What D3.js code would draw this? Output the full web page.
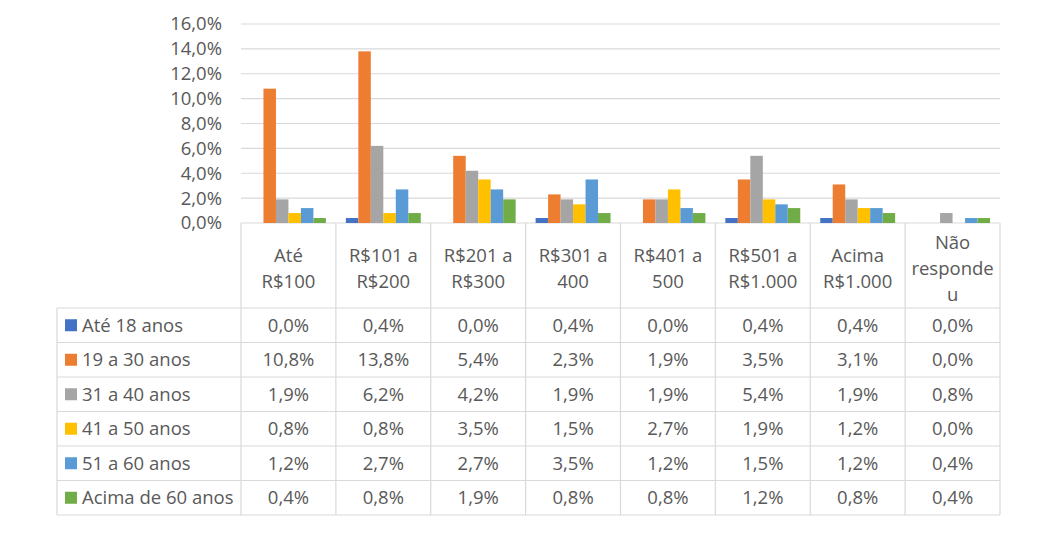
<!DOCTYPE html>
<html>
<head>
  <meta charset="utf-8">
  <script src="https://d3js.org/d3.v7.min.js"></script>
  <style>
    body { margin: 0; background: #fff; }
    text { font-family: "Open Sans", "Noto Sans", sans-serif; fill: #595959; }
  </style>
</head>
<body>
  <script type="text/javascript">
    // faixas de renda (cabecalho da tabela, "|" = quebra de linha)
    var categories = ["Até|R$100", "R$101 a|R$200", "R$201 a|R$300", "R$301 a|400",
                      "R$401 a|500", "R$501 a|R$1.000", "Acima|R$1.000", "Não|responde|u"];
    var series = ["Até 18 anos", "19 a 30 anos", "31 a 40 anos", "41 a 50 anos",
                  "51 a 60 anos", "Acima de 60 anos"];
    var colors = ["#4472C4", "#ED7D31", "#A5A5A5", "#FFC000", "#5B9BD5", "#70AD47"];

    var ate18   = [0.000, 0.004, 0.000, 0.004, 0.000, 0.004, 0.004, 0.000];
    var a19_30  = [0.108, 0.138, 0.054, 0.023, 0.019, 0.035, 0.031, 0.000];
    var a31_40  = [0.019, 0.062, 0.042, 0.019, 0.019, 0.054, 0.019, 0.008];
    var a41_50  = [0.008, 0.008, 0.035, 0.015, 0.027, 0.019, 0.012, 0.000];
    var a51_60  = [0.012, 0.027, 0.027, 0.035, 0.012, 0.015, 0.012, 0.004];
    var acima60 = [0.004, 0.008, 0.019, 0.008, 0.008, 0.012, 0.008, 0.004];
    var yTicks = [0, 0.02, 0.04, 0.06, 0.08, 0.10, 0.12, 0.14, 0.16];

    var values = [ate18, a19_30, a31_40, a41_50, a51_60, acima60];

    var width = 1061, height = 536;
    var plotLeft = 241, plotRight = 1000, plotTop = 24, base = 223;
    var tableLeft = 57, headerBottom = 308, rowH = 34.5;
    var fs = 18.5;

    var br = d3.formatLocale({decimal: ",", thousands: ".", grouping: [3], currency: ["R$", ""]});
    var pct = br.format(".1%");

    var svg = d3.select("body").append("svg")
        .attr("width", width)
        .attr("height", height);

    var x = d3.scaleBand().domain(d3.range(categories.length)).range([plotLeft, plotRight]).padding(0);
    var xs = d3.scaleBand().domain(d3.range(series.length)).range([0, x.bandwidth()])
        .paddingInner(0).paddingOuter(0.8);
    var y = d3.scaleLinear().domain([0, 0.16]).range([base, plotTop]);

    // grade
    svg.append("g").selectAll("line").data(yTicks).join("line")
        .attr("x1", plotLeft).attr("x2", plotRight)
        .attr("y1", function(d) { return y(d); })
        .attr("y2", function(d) { return y(d); })
        .attr("stroke", "#d9d9d9").attr("stroke-width", 1.2);

    var yAxis = d3.axisLeft(y).tickValues(yTicks).tickFormat(pct).tickSize(0).tickPadding(0);
    var ya = svg.append("g").attr("transform", "translate(222,0)").call(yAxis);
    ya.select(".domain").remove();
    ya.selectAll("text").attr("font-size", fs).style("fill", "#595959")
      .attr("font-family", "Open Sans, sans-serif");

    // barras
    series.forEach(function(s, si) {
      svg.append("g").selectAll("rect").data(values[si]).join("rect")
        .attr("x", function(d, i) { return x(i) + xs(si); })
        .attr("y", function(d) { return y(d); })
        .attr("width", xs.bandwidth())
        .attr("height", function(d) { return base - y(d); })
        .attr("fill", colors[si]);
    });

    // tabela de dados
    var tbl = svg.append("g").attr("stroke", "#d9d9d9").attr("stroke-width", 1.2);
    var rowsBottom = headerBottom + rowH * series.length;
    d3.range(categories.length + 1).forEach(function(i) {
      var xx = i < categories.length ? x(i) : plotRight;
      tbl.append("line").attr("x1", xx).attr("x2", xx).attr("y1", base).attr("y2", rowsBottom);
    });
    tbl.append("line").attr("x1", tableLeft).attr("x2", tableLeft).attr("y1", headerBottom).attr("y2", rowsBottom);
    d3.range(series.length + 1).forEach(function(r) {
      var yy = headerBottom + r * rowH;
      tbl.append("line").attr("x1", tableLeft).attr("x2", plotRight).attr("y1", yy).attr("y2", yy);
    });

    // cabecalho
    categories.forEach(function(c, i) {
      var lines = c.split("|");
      var cy = (base + headerBottom) / 2 + 3;
      var lh = 26;
      var t = svg.append("text")
        .attr("text-anchor", "middle")
        .attr("font-size", fs)
        .attr("x", x(i) + x.bandwidth() / 2);
      lines.forEach(function(l, k) {
        t.append("tspan")
          .attr("x", x(i) + x.bandwidth() / 2)
          .attr("y", cy + (k - (lines.length - 1) / 2) * lh)
          .attr("dy", "0.35em")
          .text(l);
      });
    });

    // legenda + valores
    series.forEach(function(s, si) {
      var cy = headerBottom + rowH * si + rowH / 2;
      svg.append("rect").attr("x", 65).attr("y", cy - 6).attr("width", 12).attr("height", 12)
        .attr("fill", colors[si]);
      svg.append("text").attr("x", 82).attr("y", cy).attr("dy", "0.35em")
        .attr("font-size", fs).text(s);
      values[si].forEach(function(v, i) {
        svg.append("text").attr("x", x(i) + x.bandwidth() / 2).attr("y", cy).attr("dy", "0.35em")
          .attr("text-anchor", "middle").attr("font-size", fs).text(pct(v));
      });
    });
  </script>
</body>
</html>
